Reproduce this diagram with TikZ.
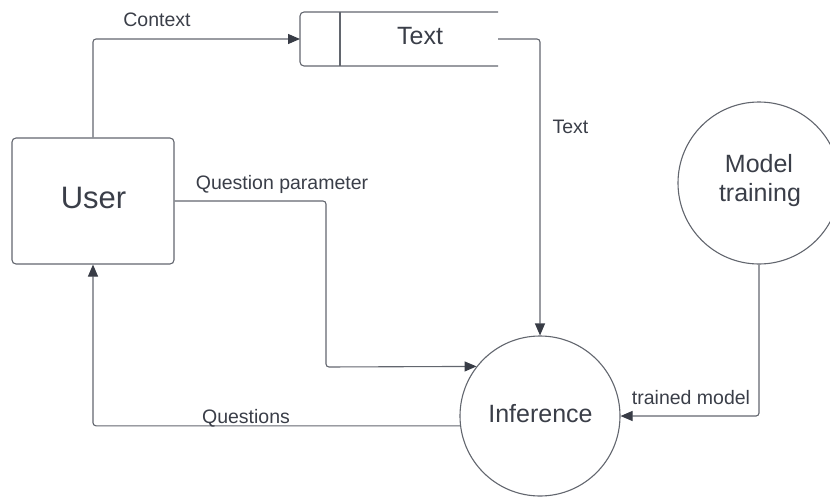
\documentclass[tikz,border=0pt]{standalone}
\usepackage{fontspec}
\setmainfont{Liberation Sans}
\usetikzlibrary{arrows.meta}
\definecolor{linec}{RGB}{98,102,110}
\definecolor{arrowc}{RGB}{56,60,70}
\definecolor{textc}{RGB}{58,62,72}
\begin{document}
\begin{tikzpicture}[x=1pt,y=-1pt,
  conn/.style={draw=linec,line width=1.1pt,rounded corners=3pt,
    -{Triangle[length=12pt,width=10pt,color=arrowc,fill=arrowc]}},
  plain/.style={draw=linec,line width=1.1pt},
  lbl/.style={font=\fontsize{19.5}{23}\selectfont,text=textc,inner sep=0pt,anchor=base},
  big/.style={font=\fontsize{25}{29}\selectfont,text=textc,inner sep=0pt,anchor=base}]
\useasboundingbox (0,0) rectangle (830,498);
\clip (0,0) rectangle (830,498);
% shapes
\node[plain,rounded corners=4pt,minimum width=162pt,minimum height=126pt,inner sep=0pt] (user) at (93,201) {};
\node[font=\fontsize{31}{36}\selectfont,text=textc,inner sep=0pt,anchor=base] (usert) at (93.5,208) {User};
\node[minimum width=198pt,minimum height=54pt,inner sep=0pt,outer sep=0pt] (store) at (399,39) {};
\draw[plain,rounded corners=4pt] (store.north east) -- (store.north west) -- (store.south west) -- (store.south east);
\draw[plain] ([xshift=40pt]store.north west) coordinate (dtop) -- ([xshift=40pt]store.south west) coordinate (dbot);
\node[big] (storet) at (420,44.3) {Text};
\node[plain,circle,minimum size=160pt,inner sep=0pt] (inf) at (540,416) {};
\node[big] (inft) at (540.5,422.7) {Inference};
\node[plain,circle,minimum size=162pt,inner sep=0pt] (mt) at (759,183) {};
\node[big] (mt1) at (759,172.7) {Model};
\node[big] (mt2) at (760,201.7) {training};
% connectors
\coordinate (qp) at (326,367);
\draw[conn] (user.north) |- (store.west);
\draw[conn] (store.east) -| (inf.north);
\draw[conn] (user.east) -| (qp) -- (inf.142.2);
\draw[conn] (inf.187.2) -| (user.south);
\draw[conn] (mt.south) |- (inf.east);
% labels
\node[lbl] (l1) at (157,26) {Context};
\node[lbl] (l2) at (282,189) {Question parameter};
\node[lbl] (l3) at (570.5,133) {Text};
\node[lbl] (l4) at (246,423) {Questions};
\node[lbl] (l5) at (691,404) {trained model};
\end{tikzpicture}
\end{document}
